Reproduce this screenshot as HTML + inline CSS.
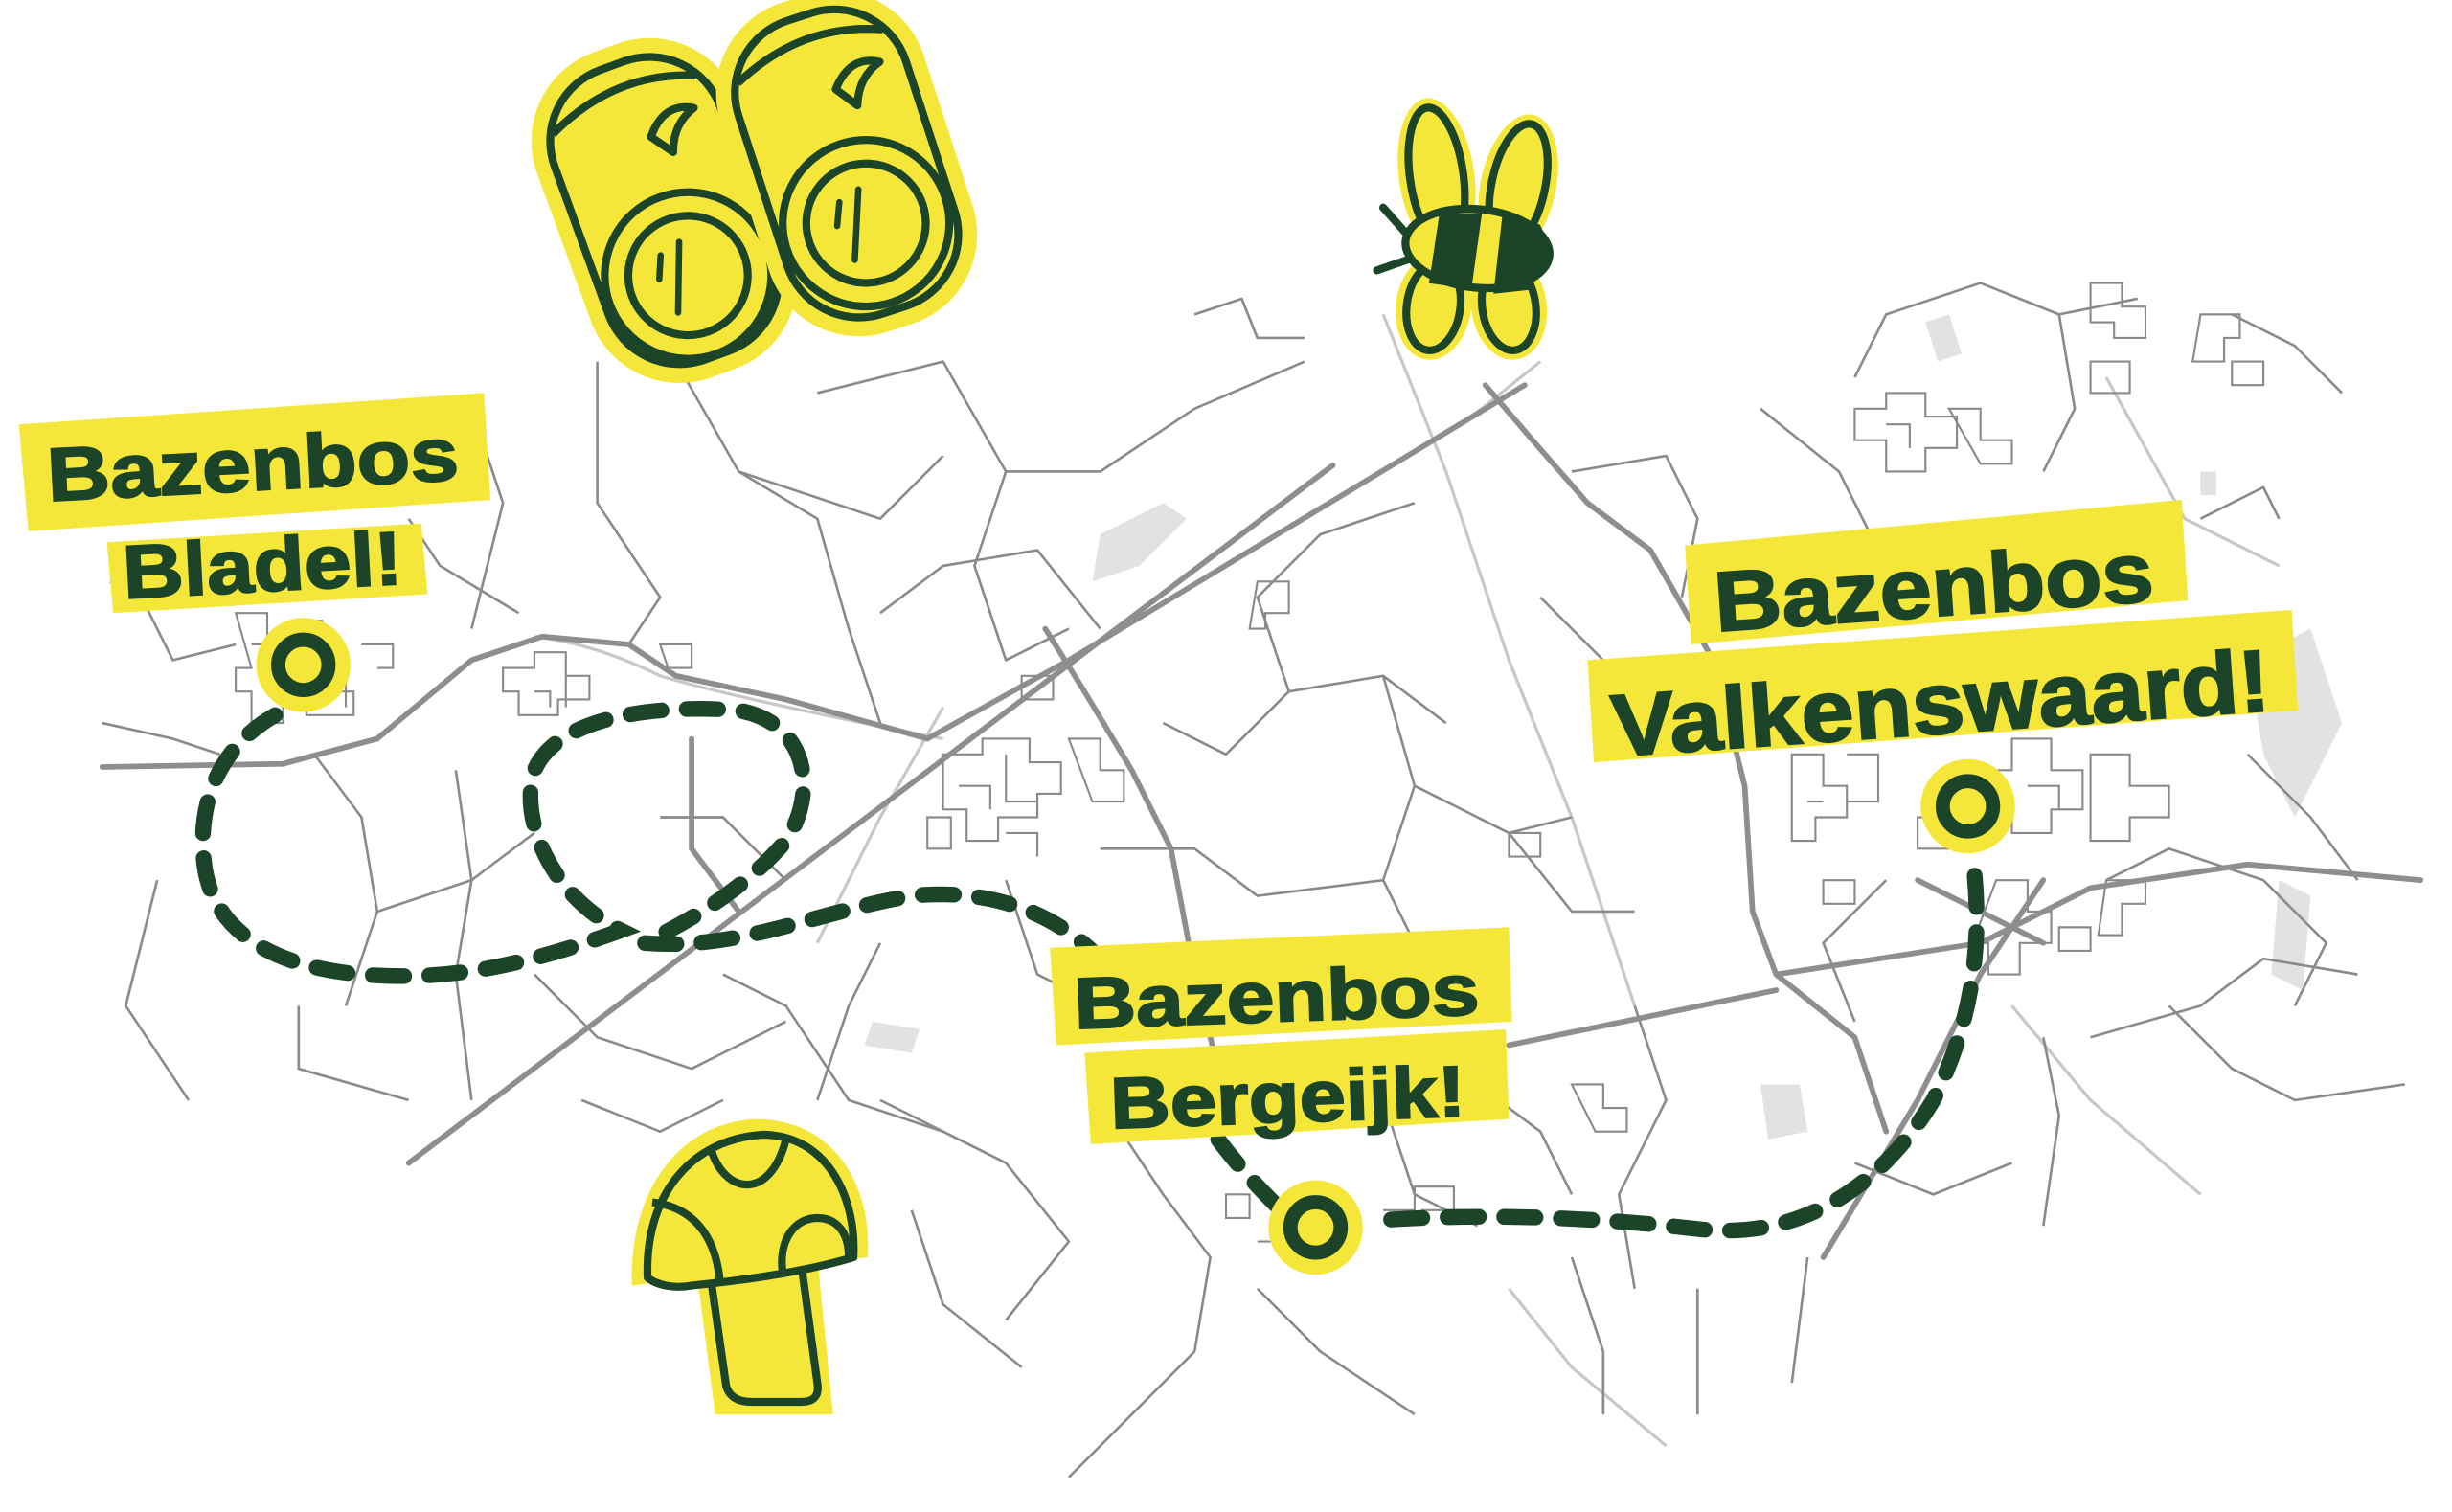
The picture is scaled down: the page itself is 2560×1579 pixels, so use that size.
<!DOCTYPE html>
<html><head><meta charset="utf-8"><style>
html,body{margin:0;padding:0;background:#fff;}
svg{display:block;}
text{font-family:"Liberation Sans",sans-serif;font-weight:bold;fill:#1b4428;stroke:#1b4428;stroke-width:1.2;}
</style></head><body>
<svg width="2560" height="1579" viewBox="0 0 1560 962" xmlns="http://www.w3.org/2000/svg">
<rect width="1560" height="962" fill="#fff"/>
<g fill="#e2e2e2">
<path d="M700 340 l40 -20 l15 10 l-30 30 l-30 10z"/>
<path d="M1225 205 l15 -5 l8 25 l-15 5z"/>
<path d="M1430 420 l40 -20 l20 60 l-30 60 l-20 -40z"/>
<path d="M1450 560 l20 10 l-5 60 l-20 -10z"/>
<path d="M555 650 l30 5 l-5 15 l-30 -5z"/>
<path d="M1120 690 l25 0 l5 30 l-25 5z"/>
<path d="M1400 300 l10 0 l0 15 l-10 0z"/>
</g>
<g fill="none" stroke="#c8c8c8" stroke-width="2">
<path d="M340 405 Q380 410 420 430 Q470 445 600 470"/>
<path d="M880 200 L920 300 L960 420 L1000 520 L1040 640"/>
<path d="M1340 240 L1390 330 L1450 360"/>
<path d="M1280 640 L1330 700 L1400 760"/>
<path d="M960 820 L1000 870 L1060 920"/>
<path d="M600 450 L560 520 L520 600"/>
<path d="M930 270 L980 230"/>
</g>
<g fill="none" stroke="#8a8a8a" stroke-width="1.6" stroke-linejoin="round">
<path d="M380 230 L380 320 L420 380 L400 410"/>
<path d="M430 230 L470 300 L520 330 L540 400 L560 460"/>
<path d="M520 250 L600 230 L640 300 L700 300 L760 260 L830 230"/>
<path d="M470 300 L560 330 L600 290"/>
<path d="M640 300 L620 360 L640 420 L680 400"/>
<path d="M760 200 L790 190 L800 215 L830 215"/>
<path d="M560 390 L600 360 L660 350 L700 400"/>
<path d="M300 260 L320 320 L300 400"/>
<path d="M260 330 L280 360 L330 390"/>
<path d="M70 370 L90 380 L110 420 L150 410"/>
<path d="M65 460 L110 470 L140 480"/>
<path d="M200 480 L230 520 L240 580 L220 640"/>
<path d="M240 580 L300 560 L340 530"/>
<path d="M290 490 L300 560 L290 620 L300 700"/>
<path d="M190 640 L190 680 L260 700"/>
<path d="M340 620 L380 660 L440 680 L500 650"/>
<path d="M420 520 L460 520 L500 560"/>
<path d="M100 560 L80 640 L120 700"/>
<path d="M460 620 L500 640 L540 700 L600 720"/>
<path d="M560 700 L640 740 L680 790 L640 840"/>
<path d="M580 770 L600 830 L650 870"/>
<path d="M700 540 L760 540 L800 570 L880 560"/>
<path d="M740 460 L780 480 L820 440 L880 430 L920 460"/>
<path d="M820 440 L800 380 L840 340 L900 320"/>
<path d="M880 430 L900 500 L960 530 L1000 520"/>
<path d="M900 500 L880 560 L900 600 L960 620"/>
<path d="M960 530 L1000 580 L1040 580"/>
<path d="M1000 300 L1060 290 L1080 330 L1070 380"/>
<path d="M980 380 L1020 420 L1060 440"/>
<path d="M1120 260 L1170 300 L1190 340"/>
<path d="M1180 240 L1200 200 L1260 180 L1310 200 L1360 190"/>
<path d="M1310 200 L1320 260 L1300 300"/>
<path d="M1420 200 L1460 220 L1490 250"/>
<path d="M1400 330 L1440 310 L1450 330"/>
<path d="M1430 480 L1470 520 L1500 560"/>
<path d="M1380 640 L1420 680 L1460 700 L1530 690"/>
<path d="M1300 660 L1310 710 L1300 780"/>
<path d="M1040 640 L1060 700 L1030 760 L1040 820"/>
<path d="M940 690 L980 720 L1000 760"/>
<path d="M880 700 L900 760 L940 780"/>
<path d="M700 700 L740 760 L770 800 L760 860"/>
<path d="M760 860 L720 900 L680 940"/>
<path d="M800 820 L840 860 L900 900"/>
<path d="M1000 800 L1020 860 L1020 900"/>
<path d="M1080 820 L1080 900"/>
<path d="M1150 800 L1140 880"/>
<path d="M1180 740 L1230 760 L1280 740"/>
<path d="M1200 560 L1160 600 L1180 650"/>
<path d="M1330 660 L1400 640 L1440 610 L1500 620"/>
<path d="M1340 560 L1380 540 L1440 560"/>
<path d="M1440 560 L1480 600 L1460 640"/>
<path d="M560 600 L540 640 L520 700"/>
<path d="M370 700 L420 720 L460 700"/>
<path d="M640 560 L660 620 L700 640"/>
</g>
<g fill="none" stroke="#8a8a8a" stroke-width="1.3">
<path d="M150 390 h20 v15 h15 v-10 h20 v20 h15 v15 h-20 v10 h25 v15 h-30 v-10 h-15 v15 h-20 v-20 h-10 v-15 h10 z M160 410 h15 M200 430 h20 v20 M230 410 h20 v15 h-10"/>
<path d="M320 425 h20 v-10 h20 v15 h15 v15 h-20 v10 h-25 v-15 h-10 z M340 440 h10 v10 M360 420 v30 M420 410 h20 v15 h-15 z"/>
<path d="M600 480 h25 v-10 h30 v15 h20 v20 h-15 v15 h-25 v15 h-20 v-20 h-15 z M610 500 h20 v15 M640 480 v30 h20 M680 470 h20 v20 h15 v20 h-20 z M590 520 h15 v20 h-15 z M640 530 h20 v15"/>
<path d="M800 370 h20 v20 h-15 v10 h-10 z M650 430 h20 v15 h-20 z"/>
<path d="M1180 260 h20 v-10 h25 v15 h20 v20 h-20 v15 h-25 v-20 h-20 z M1200 270 h15 v15 M1240 260 h20 v20 h20 v15 h-20 z M1330 180 h20 v15 h15 v20 h-20 v-10 h-15 z M1400 200 h25 v15 h-10 v15 h-20 z M1330 230 h25 v20 h-25 z M1420 230 h20 v15 h-20z"/>
<path d="M1140 480 h20 v20 h15 v20 h-20 v15 h-15 z M1150 510 h10 M1175 480 h20 v30 h-20 M1280 470 h25 v20 h20 v25 h-20 v15 h-25 v-20 h-15 v-20 h15 z M1290 500 h20 v15 M1330 480 h25 v20 h25 v20 h-25 v15 h-25 z M1270 560 h20 v20 h15 v20 h-20 v20 h-20 v-20 h-10 z M1310 590 h20 v15 h-20 z M1340 560 h25 v15 h-15 v20 h-15 z M1220 520 h20 v20 h-20 z M1160 560 h20 v15 h-20z"/>
<path d="M780 760 h15 v15 h-15 z M800 790 h20 v15 M880 770 h20 v-15 h25 v15 h-20 v10 M1000 690 h20 v15 h15 v15 h-20 z M960 530 h20 v15 h-20 z"/>
</g>
<g fill="none" stroke="#8e8e8e" stroke-width="3.5" stroke-linejoin="round" stroke-linecap="round">
<path d="M260 740 L848 296"/>
<path d="M590 470 L680 420 L970 245"/>
<path d="M65 488 L180 486 L240 470 L300 420 L345 405 L400 410 L430 430 L500 445 L590 470"/>
<path d="M945 245 L975 280 L1010 320 L1050 350 L1090 420 L1110 500 L1115 580 L1130 620 L1180 660 L1200 720"/>
<path d="M665 400 L690 440 L720 490 L745 540 L760 620 L780 700"/>
<path d="M1130 620 L1260 600 L1330 565 L1430 550 L1540 560"/>
<path d="M1160 800 L1220 700 L1260 620 L1300 560"/>
<path d="M960 665 L1130 630"/>
<path d="M440 470 L440 540 L470 580"/>
<path d="M1220 560 L1260 580 L1300 600"/>
</g>
<g fill="none" stroke="#1b4428" stroke-width="10" stroke-linecap="round" stroke-dasharray="20 16">
<path d="M175 455 C140 475 125 510 130 550 C135 590 170 615 230 620 C290 625 340 612 395 592 C350 570 330 520 340 490 C355 455 420 448 470 452 C515 460 520 505 500 535 C470 570 430 590 410 600 C470 605 520 580 580 570 C630 565 670 580 700 610"/>
<path d="M775 725 C790 745 805 760 815 770"/>
<path d="M885 776 C950 772 1020 775 1080 782 C1150 790 1200 750 1230 700 C1255 650 1262 600 1255 545"/>
</g>
<g>
<circle cx="193" cy="423" r="30" fill="#f5e73a"/>
<circle cx="193" cy="423" r="16" fill="#f5e73a" stroke="#1b4428" stroke-width="9"/>
<circle cx="1252" cy="513" r="30" fill="#f5e73a"/>
<circle cx="1252" cy="513" r="16" fill="#f5e73a" stroke="#1b4428" stroke-width="9"/>
<circle cx="837" cy="781" r="30" fill="#f5e73a"/>
<circle cx="837" cy="781" r="16" fill="#f5e73a" stroke="#1b4428" stroke-width="9"/>
</g>
<g fill="#f5e73a">
<polygon points="12,270 308,250 312,318 18,338"/>
<polygon points="68,345 268,333 272,378 72,390"/>
<polygon points="1072,347 1388,318 1392,382 1076,410"/>
<polygon points="1010,420 1458,388 1462,452 1014,485"/>
<polygon points="668,603 960,590 962,650 672,665"/>
<polygon points="690,670 958,655 960,712 694,728"/>
</g>
<text x="30" y="312" font-size="48" textLength="262" lengthAdjust="spacingAndGlyphs" transform="rotate(-3 160 300)">Bazenbos</text>
<text x="78" y="376" font-size="48" textLength="178" lengthAdjust="spacingAndGlyphs" transform="rotate(-3 170 360)">Bladel!</text>
<text x="1090" y="392" font-size="54" textLength="280" lengthAdjust="spacingAndGlyphs" transform="rotate(-4 1230 370)">Bazenbos</text>
<text x="1024" y="467" font-size="56" textLength="420" lengthAdjust="spacingAndGlyphs" transform="rotate(-4 1230 440)">Valkenswaard!</text>
<text x="683" y="650" font-size="46" textLength="258" lengthAdjust="spacingAndGlyphs" transform="rotate(-2 810 630)">Bazenbos</text>
<text x="706" y="714" font-size="46" textLength="226" lengthAdjust="spacingAndGlyphs" transform="rotate(-2 820 690)">Bergeijk!</text>
<!-- binoculars -->
<g stroke-linejoin="round">
<g transform="translate(422,132) rotate(-20)">
<rect x="-68" y="-108" width="136" height="220" rx="60" fill="#f5e73a"/>
<rect x="-56" y="-96" width="112" height="196" rx="48" fill="#f5e73a" stroke="#1b4428" stroke-width="5"/>
<path d="M-50 -68 Q0 -92 48 -72" fill="none" stroke="#1b4428" stroke-width="5"/>
<path d="M8 -45 q15 -18 32 -8 q-16 5 -22 22 z" fill="#f5e73a" stroke="#1b4428" stroke-width="5"/>
<circle cx="0" cy="46" r="53" fill="#f5e73a" stroke="#1b4428" stroke-width="5"/>
<circle cx="0" cy="46" r="38" fill="#f5e73a" stroke="#1b4428" stroke-width="5"/>
<path d="M-12 28 l-6 14 M2 24 l-16 42" stroke="#1b4428" stroke-width="4" stroke-linecap="round"/>
</g>
<g transform="translate(538,102) rotate(-18)">
<rect x="-68" y="-108" width="136" height="220" rx="60" fill="#f5e73a"/>
<rect x="-56" y="-96" width="112" height="196" rx="48" fill="#f5e73a" stroke="#1b4428" stroke-width="5"/>
<path d="M-50 -68 Q0 -92 48 -72" fill="none" stroke="#1b4428" stroke-width="5"/>
<path d="M8 -45 q15 -18 32 -8 q-16 5 -22 22 z" fill="#f5e73a" stroke="#1b4428" stroke-width="5"/>
<circle cx="0" cy="42" r="53" fill="#f5e73a" stroke="#1b4428" stroke-width="5"/>
<circle cx="0" cy="42" r="38" fill="#f5e73a" stroke="#1b4428" stroke-width="5"/>
<path d="M-12 24 l-6 14 M2 20 l-16 42" stroke="#1b4428" stroke-width="4" stroke-linecap="round"/>
</g>
</g>
<!-- bee -->
<g stroke="#1b4428" stroke-width="5">
<ellipse cx="914" cy="112" rx="24" ry="50" fill="#f5e73a" stroke="none" transform="rotate(-8 914 112)"/>
<ellipse cx="966" cy="118" rx="24" ry="46" fill="#f5e73a" stroke="none" transform="rotate(12 966 118)"/>
<ellipse cx="912" cy="195" rx="24" ry="34" fill="#f5e73a" stroke="none" transform="rotate(8 912 195)"/>
<ellipse cx="960" cy="195" rx="24" ry="34" fill="#f5e73a" stroke="none" transform="rotate(-8 960 195)"/>
<ellipse cx="914" cy="112" rx="17" ry="44" fill="#f5e73a" transform="rotate(-8 914 112)"/>
<ellipse cx="966" cy="118" rx="17" ry="40" fill="#f5e73a" transform="rotate(12 966 118)"/>
<ellipse cx="912" cy="195" rx="17" ry="28" fill="#f5e73a" transform="rotate(8 912 195)"/>
<ellipse cx="960" cy="195" rx="17" ry="28" fill="#f5e73a" transform="rotate(-8 960 195)"/>
<path d="M896 150 L880 132 M896 165 L876 172" stroke-linecap="round"/>
<ellipse cx="940" cy="158" rx="46" ry="25" fill="#f5e73a" transform="rotate(6 940 158)"/>
<path d="M918 138 L912 178 L934 181 L940 138 Z" fill="#1b4428"/>
<path d="M958 140 L953 184 L972 182 L984 158 L978 145 Z" fill="#1b4428"/>
</g>
<!-- mushroom -->
<g stroke-linejoin="round">
<path d="M402 818 C400 760 430 715 480 712 C535 712 555 760 552 800 Z" fill="#f5e73a"/>
<path d="M442 800 L455 900 L530 900 L520 800 Z" fill="#f5e73a"/>
<path d="M452 812 L462 882 Q465 892 478 892 L510 892 Q522 892 520 880 L510 806" fill="#f5e73a" stroke="#1b4428" stroke-width="5"/>
<path d="M412 813 C410 760 440 725 485 722 C525 722 545 760 543 800 C510 810 470 815 440 818 C430 820 418 818 412 813 Z" fill="#f5e73a" stroke="#1b4428" stroke-width="5"/>
<path d="M452 730 C460 760 490 765 500 725" fill="none" stroke="#1b4428" stroke-width="5"/>
<path d="M415 765 C440 768 455 785 458 815" fill="none" stroke="#1b4428" stroke-width="5"/>
<path d="M498 810 C495 790 505 775 520 775 C533 775 540 785 540 800" fill="none" stroke="#1b4428" stroke-width="5"/>
</g>
</svg>
</body></html>
